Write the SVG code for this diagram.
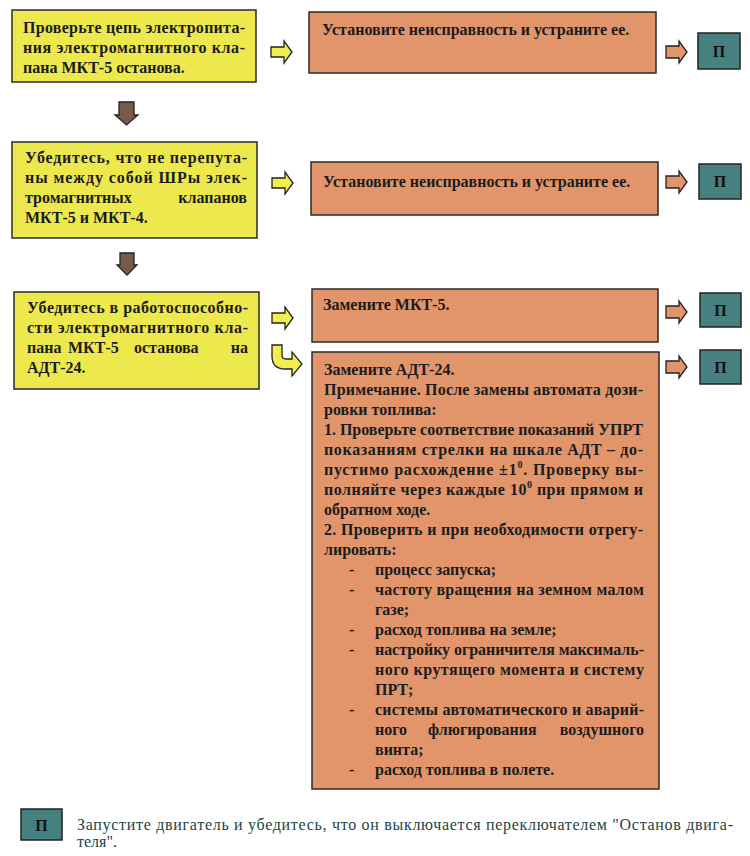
<svg xmlns="http://www.w3.org/2000/svg" width="750" height="856" viewBox="0 0 750 856">
<style>
.y{fill:#EDE84C;stroke:#2a2a2a;stroke-width:1.5}
.o{fill:#E2956A;stroke:#2a2a2a;stroke-width:1.5}
.p{fill:#468080;stroke:#222;stroke-width:1.5}
.t{font-family:"Liberation Serif","Times New Roman",serif;font-size:16px;font-weight:bold;fill:#1c1c1c}
.m{text-anchor:middle}
.e{text-anchor:end}
.pl{font-family:"Liberation Serif","Times New Roman",serif;font-size:16px;font-weight:bold;fill:#111;text-anchor:middle}
.lg{font-family:"Liberation Serif","Times New Roman",serif;font-size:16px;fill:#234444}
.ya{fill:#F2EE50;stroke:#222;stroke-width:1.3}
.oa{fill:#E2956A;stroke:#222;stroke-width:1.3}
.da{fill:#7A5A48;stroke:#222;stroke-width:1.3}
.sup{font-size:10px}
</style>
<defs>
<path id="ra" d="M0,-5 H13 V-11 L21,0 L13,11 V5 H0 Z"/>
<path id="rb" d="M0,-6 H13 V-11 L21,0 L13,11 V6 H0 Z"/>
</defs>

<g id="q1">
<rect class="y" x="12" y="10" width="244" height="72"/>
<text class="t" x="23" y="33" textLength="222" lengthAdjust="spacing">Проверьте цепь электропита-</text>
<text class="t" x="23" y="53" textLength="222" lengthAdjust="spacing">ния электромагнитного кла-</text>
<text class="t" x="23" y="73">пана МКТ-5 останова.</text>
</g>
<g id="a1">
<rect class="o" x="309" y="12" width="347" height="61"/>
<text class="t" x="322" y="35">Установите неисправность и устраните ее.</text>
</g>
<g id="p1">
<rect class="p" x="698" y="33" width="42" height="36"/>
<text class="pl" x="719" y="57">П</text>
</g>

<g id="q2">
<rect class="y" x="12" y="142" width="245" height="96"/>
<text class="t" x="25" y="163" textLength="222" lengthAdjust="spacing">Убедитесь, что не перепута-</text>
<text class="t" x="25" y="183" textLength="222" lengthAdjust="spacing">ны между собой ШРы элек-</text>
<text class="t" x="25" y="203">тромагнитных</text>
<text class="t e" x="247" y="203">клапанов</text>
<text class="t" x="25" y="223">МКТ-5 и МКТ-4.</text>
</g>
<g id="a2">
<rect class="o" x="311" y="162" width="347" height="53"/>
<text class="t" x="323" y="187">Установите неисправность и устраните ее.</text>
</g>
<g id="p2">
<rect class="p" x="699" y="164" width="42" height="35"/>
<text class="pl" x="720" y="187">П</text>
</g>

<g id="q3">
<rect class="y" x="14" y="292" width="245" height="97"/>
<text class="t" x="27" y="313" textLength="221" lengthAdjust="spacing">Убедитесь в работоспособно-</text>
<text class="t" x="27" y="333" textLength="221" lengthAdjust="spacing">сти электромагнитного кла-</text>
<text class="t" x="27" y="353">пана</text>
<text class="t" x="68" y="353">МКТ-5</text>
<text class="t" x="134" y="353">останова</text>
<text class="t e" x="248" y="353">на</text>
<text class="t" x="27" y="373">АДТ-24.</text>
</g>
<g id="a3">
<rect class="o" x="312" y="289" width="346" height="53"/>
<text class="t" x="323" y="310">Замените МКТ-5.</text>
</g>
<g id="p3">
<rect class="p" x="700" y="293" width="41" height="34"/>
<text class="pl" x="720.5" y="316">П</text>
</g>

<g id="a4">
<rect class="o" x="312" y="352" width="347" height="437"/>
<text class="t" x="324" y="375">Замените АДТ-24.</text>
<text class="t" x="324" y="395" textLength="319" lengthAdjust="spacing">Примечание. После замены автомата дози-</text>
<text class="t" x="324" y="415">ровки топлива:</text>
<text class="t" x="324" y="435" textLength="319" lengthAdjust="spacing">1. Проверьте соответствие показаний УПРТ</text>
<text class="t" x="324" y="455" textLength="319" lengthAdjust="spacing">показаниям стрелки на шкале АДТ – до-</text>
<text class="t" x="324" y="475" textLength="319" lengthAdjust="spacing">пустимо расхождение ±1<tspan class="sup" dy="-7">0</tspan><tspan dy="7">. Проверку вы-</tspan></text>
<text class="t" x="324" y="495" textLength="319" lengthAdjust="spacing">полняйте через каждые 10<tspan class="sup" dy="-7">0</tspan><tspan dy="7"> при прямом и</tspan></text>
<text class="t" x="324" y="515">обратном ходе.</text>
<text class="t" x="324" y="535" textLength="319" lengthAdjust="spacing">2. Проверить и при необходимости отрегу-</text>
<text class="t" x="324" y="555">лировать:</text>
<text class="t" x="349" y="575">-</text>
<text class="t" x="375" y="575">процесс запуска;</text>
<text class="t" x="349" y="595">-</text>
<text class="t" x="375" y="595" textLength="269" lengthAdjust="spacing">частоту вращения на земном малом</text>
<text class="t" x="375" y="615">газе;</text>
<text class="t" x="349" y="635">-</text>
<text class="t" x="375" y="635">расход топлива на земле;</text>
<text class="t" x="349" y="655">-</text>
<text class="t" x="375" y="655" textLength="269" lengthAdjust="spacing">настройку ограничителя максималь-</text>
<text class="t" x="375" y="675" textLength="269" lengthAdjust="spacing">ного крутящего момента и систему</text>
<text class="t" x="375" y="695">ПРТ;</text>
<text class="t" x="349" y="715">-</text>
<text class="t" x="375" y="715" textLength="269" lengthAdjust="spacing">системы автоматического и аварий-</text>
<text class="t" x="375" y="735">ного</text>
<text class="t" x="428" y="735">флюгирования</text>
<text class="t e" x="644" y="735">воздушного</text>
<text class="t" x="375" y="755">винта;</text>
<text class="t" x="349" y="775">-</text>
<text class="t" x="375" y="775">расход топлива в полете.</text>
</g>
<g id="p4">
<rect class="p" x="700" y="350" width="41" height="34"/>
<text class="pl" x="720.5" y="373">П</text>
</g>

<g id="connectors">
<use href="#ra" class="ya" x="271" y="52"/>
<use href="#ra" class="ya" x="272" y="183"/>
<use href="#ra" class="ya" x="272" y="318"/>
<path class="ya" d="M272,345 H282 V355 Q282,359 286,359 H292 V352 L302,364 L292,376 V369 H285 Q272,369 272,356 Z"/>
<use href="#rb" class="oa" x="666" y="52"/>
<use href="#rb" class="oa" x="666" y="182"/>
<use href="#rb" class="oa" x="666" y="312"/>
<use href="#rb" class="oa" x="666" y="367"/>
<path class="da" d="M119,102 H134 V115 H138 L126.5,125 L115,115 H119 Z"/>
<path class="da" d="M120,253 H134 V265 H137 L127,275 L117,265 H120 Z"/>
</g>

<g id="legend">
<rect class="p" x="21" y="809" width="41" height="31"/>
<text class="pl" x="41.5" y="831">П</text>
<text class="lg" x="77" y="830" textLength="656" lengthAdjust="spacing">Запустите двигатель и убедитесь, что он выключается переключателем "Останов двига-</text>
<text class="lg" x="77" y="847">теля".</text>
</g>
</svg>
